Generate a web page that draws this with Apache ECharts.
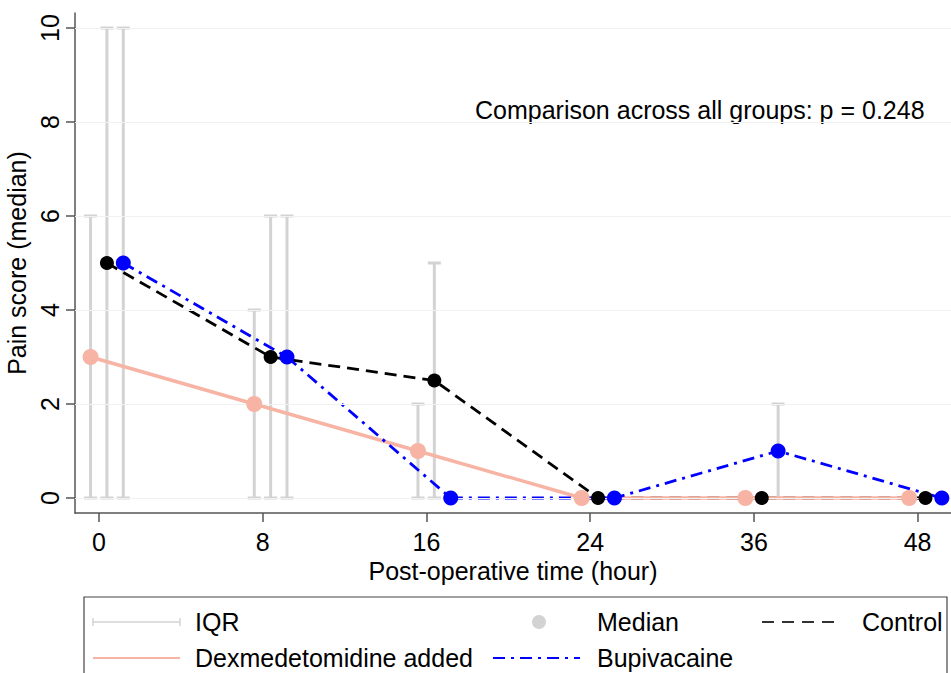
<!DOCTYPE html>
<html>
<head>
<meta charset="utf-8">
<script src="https://cdn.jsdelivr.net/npm/echarts@6/dist/echarts.min.js"></script>
<style>
html,body{margin:0;padding:0;background:#fff;}
#chart{width:951px;height:673px;}
</style>
</head>
<body>
<div id="chart"></div>
<script>
// ---- data ----
const timeLabels = ['0', '8', '16', '24', '36', '48'];
const yTicks = [0, 2, 4, 6, 8, 10];

const dexMedian  = [3, 2, 1, 0, 0, 0];
const dexQ1      = [0, 0, 0, 0, 0, 0];
const dexQ3      = [6, 4, 2, 0, 0, 0];

const ctrlMedian = [5, 3, 2.5, 0, 0, 0];
const ctrlQ1     = [0, 0, 0, 0, 0, 0];
const ctrlQ3     = [10, 6, 5, 0, 0, 0];

const bupMedian  = [5, 3, 0, 0, 1, 0];
const bupQ1      = [0, 0, 0, 0, 0, 0];
const bupQ3      = [10, 6, 0, 0, 2, 0];

// ---- layout / style ----
const FONT = "'Liberation Sans', Arial, Helvetica, sans-serif";
const FS = 25;
const DEX_COLOR = '#f7b3a3';
const CTRL_COLOR = '#000000';
const BUP_COLOR = '#0000ff';
const IQR_COLOR = '#d3d3d3';
const jitter = { dex: -0.052, ctrl: 0.048, bup: 0.148 };

function pts(vals, off) { return vals.map((v, i) => [i + off, v]); }
function bars(q1, q3, off) { return q1.map((lo, i) => [i + off, lo, q3[i]]); }

const iqrData = [].concat(
  bars(dexQ1, dexQ3, jitter.dex),
  bars(ctrlQ1, ctrlQ3, jitter.ctrl),
  bars(bupQ1, bupQ3, jitter.bup)
);

const chart = echarts.init(document.getElementById('chart'), null, { renderer: 'svg' });

const txt = (text, x, y) => ({ type: 'text', x: x, y: y, style: { text: text, fontSize: FS, fontFamily: FONT, fill: '#000', verticalAlign: 'middle', align: 'left' } });

const option = {
  animation: false,
  backgroundColor: '#fff',
  grid: { left: 75, right: 0, top: 13, bottom: 160, containLabel: false, outerBoundsMode: 'none' },
  xAxis: {
    type: 'value',
    min: -0.147,
    max: 5.204,
    axisLine: { show: true, onZero: false, lineStyle: { color: '#555', width: 1.5 } },
    axisTick: { show: true, customValues: [0, 1, 2, 3, 4, 5], length: 9, lineStyle: { color: '#555', width: 1.5 } },
    axisLabel: {
      customValues: [0, 1, 2, 3, 4, 5],
      formatter: v => timeLabels[Math.round(v)],
      fontSize: FS, fontFamily: FONT, color: '#000', margin: 16
    },
    splitLine: { show: false },
    name: 'Post-operative time (hour)',
    nameLocation: 'middle',
    nameGap: 43,
    nameTextStyle: { fontSize: FS, fontFamily: FONT, color: '#000' }
  },
  yAxis: {
    type: 'value',
    min: -0.319,
    max: 10.319,
    axisLine: { show: true, onZero: false, lineStyle: { color: '#555', width: 1.5 } },
    axisTick: { show: true, customValues: yTicks, length: 9, lineStyle: { color: '#555', width: 1.5 } },
    axisLabel: {
      customValues: yTicks,
      rotate: 90,
      fontSize: FS, fontFamily: FONT, color: '#000', margin: 13
    },
    splitLine: { show: false },
    name: 'Pain score (median)',
    nameLocation: 'middle',
    nameGap: 35,
    nameTextStyle: { fontSize: FS, fontFamily: FONT, color: '#000' }
  },
  series: [
    {
      name: 'IQR',
      type: 'custom',
      z: 1,
      data: iqrData,
      renderItem: function (params, api) {
        const x = api.value(0);
        const lo = api.coord([x, api.value(1)]);
        const hi = api.coord([x, api.value(2)]);
        const hw = 6.5;
        const st = { stroke: IQR_COLOR, lineWidth: 3 };
        return {
          type: 'group',
          children: [
            { type: 'line', shape: { x1: lo[0], y1: lo[1], x2: hi[0], y2: hi[1] }, style: st },
            { type: 'line', shape: { x1: lo[0] - hw, y1: lo[1], x2: lo[0] + hw, y2: lo[1] }, style: st },
            { type: 'line', shape: { x1: hi[0] - hw, y1: hi[1], x2: hi[0] + hw, y2: hi[1] }, style: st }
          ]
        };
      },
      markLine: {
        silent: true,
        symbol: 'none',
        label: { show: false },
        lineStyle: { color: '#f1f1f1', width: 1, type: 'solid' },
        data: yTicks.map(v => ({ yAxis: v }))
      }
    },
    {
      name: 'Control line', type: 'line', z: 2, showSymbol: false,
      data: pts(ctrlMedian, jitter.ctrl),
      lineStyle: { color: CTRL_COLOR, width: 2.8, type: [12, 7] }
    },
    {
      name: 'Dex line', type: 'line', z: 3, showSymbol: false,
      data: pts(dexMedian, jitter.dex),
      lineStyle: { color: DEX_COLOR, width: 3.4, type: 'solid' }
    },
    {
      name: 'Bup line', type: 'line', z: 4, showSymbol: false,
      data: pts(bupMedian, jitter.bup),
      lineStyle: { color: BUP_COLOR, width: 2.8, type: [12, 6, 3, 6] }
    },
    {
      name: 'Dex median', type: 'scatter', z: 5,
      data: pts(dexMedian, jitter.dex),
      symbol: 'circle', symbolSize: 16,
      itemStyle: { color: DEX_COLOR, opacity: 1 }
    },
    {
      name: 'Control median', type: 'scatter', z: 6,
      data: pts(ctrlMedian, jitter.ctrl),
      symbol: 'circle', symbolSize: 14,
      itemStyle: { color: CTRL_COLOR, opacity: 1 }
    },
    {
      name: 'Bup median', type: 'scatter', z: 7,
      data: pts(bupMedian, jitter.bup),
      symbol: 'circle', symbolSize: 15,
      itemStyle: { color: BUP_COLOR, opacity: 1 }
    }
  ],
  graphic: [
    txt('Comparison across all groups: p = 0.248', 475, 110),
    // legend box
    { type: 'rect', shape: { x: 84, y: 597, width: 863, height: 120 }, style: { fill: 'none', stroke: '#444', lineWidth: 1.2 } },
    // IQR
    { type: 'line', shape: { x1: 93, y1: 622, x2: 180, y2: 622 }, style: { stroke: IQR_COLOR, lineWidth: 1.5 } },
    { type: 'line', shape: { x1: 93, y1: 618, x2: 93, y2: 626 }, style: { stroke: IQR_COLOR, lineWidth: 1.5 } },
    { type: 'line', shape: { x1: 180, y1: 618, x2: 180, y2: 626 }, style: { stroke: IQR_COLOR, lineWidth: 1.5 } },
    txt('IQR', 195, 622),
    // Median
    { type: 'circle', shape: { cx: 539, cy: 622, r: 7 }, style: { fill: '#d3d3d3' } },
    txt('Median', 597, 622),
    // Control
    { type: 'line', shape: { x1: 762, y1: 622, x2: 840, y2: 622 }, style: { stroke: '#333', lineWidth: 2, lineDash: [12, 8] } },
    txt('Control', 862, 622),
    // Dex
    { type: 'line', shape: { x1: 93, y1: 658, x2: 180, y2: 658 }, style: { stroke: DEX_COLOR, lineWidth: 2 } },
    txt('Dexmedetomidine added', 195, 658),
    // Bup
    { type: 'line', shape: { x1: 493, y1: 658, x2: 580, y2: 658 }, style: { stroke: BUP_COLOR, lineWidth: 2, lineDash: [12, 6, 3, 6] } },
    txt('Bupivacaine', 597, 658)
  ]
};

chart.setOption(option);
</script>
</body>
</html>
